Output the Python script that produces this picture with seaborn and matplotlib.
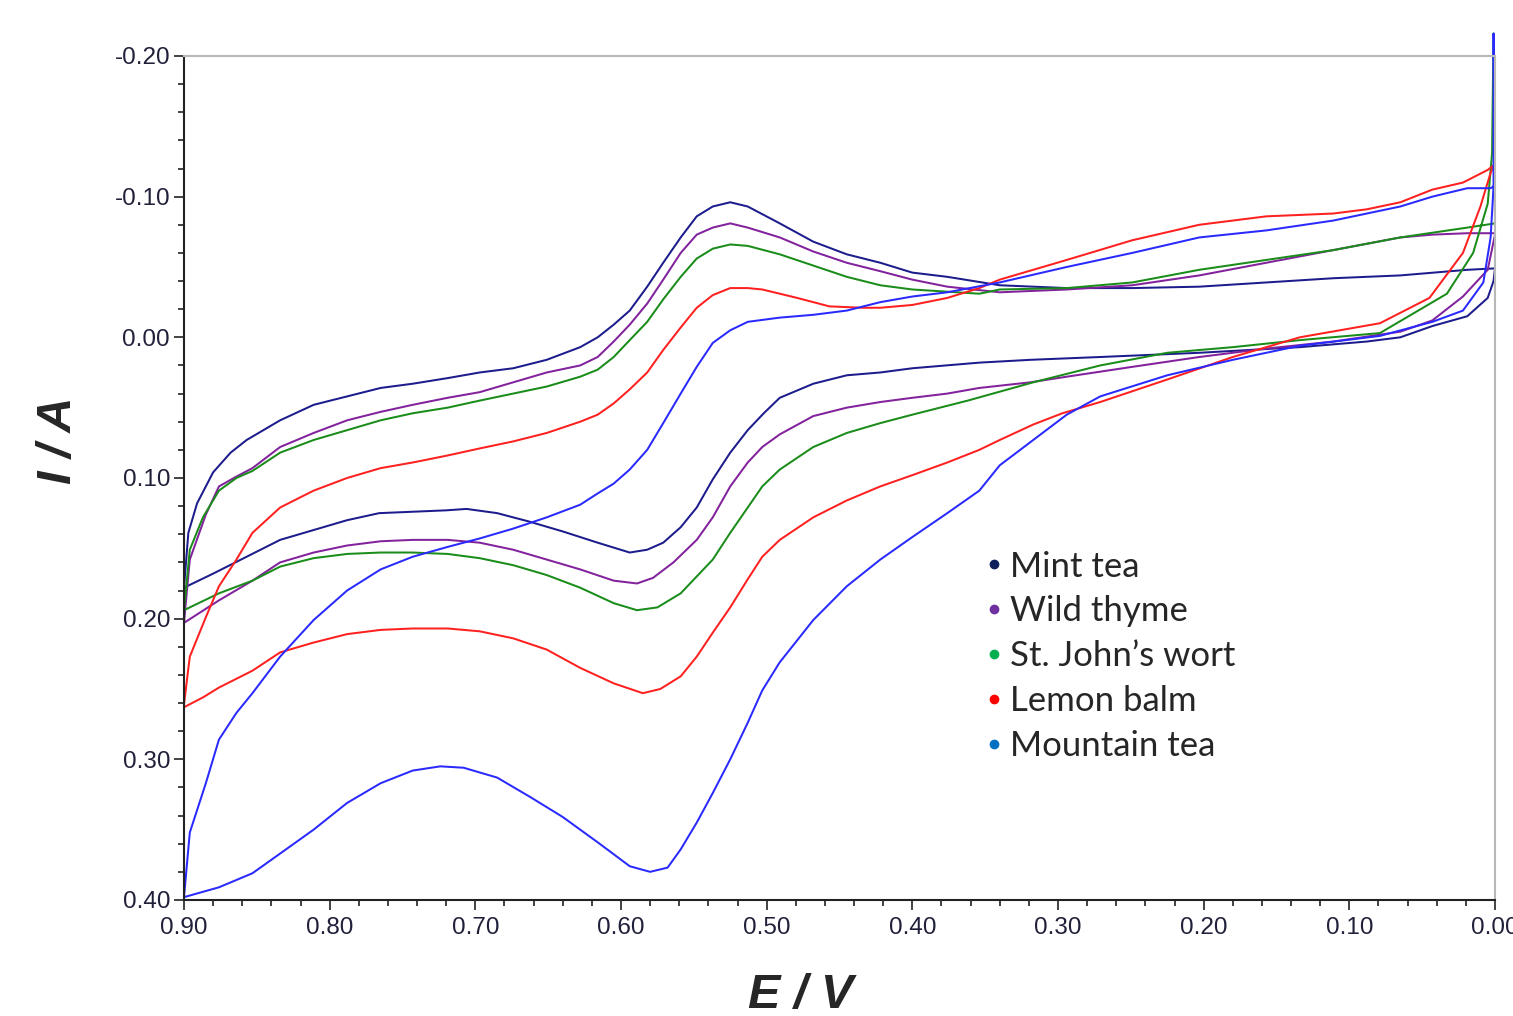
import numpy as np
import pandas as pd
import matplotlib
matplotlib.use("Agg")
import matplotlib.pyplot as plt
import seaborn as sns
from matplotlib.lines import Line2D
from matplotlib.ticker import MultipleLocator, FuncFormatter

# cyclic voltammograms of five herbal teas
# each loop: forward branch 0.90 -> 0.00 V, reverse branch 0.00 -> 0.90 V

samples = ["Mint tea", "Wild thyme", "St. John\u2019s wort", "Lemon balm", "Mountain tea"]

mint_fwd_E = [0.900, 0.880, 0.857, 0.834, 0.811, 0.788, 0.766, 0.743, 0.720, 0.706,
              0.685, 0.663, 0.640, 0.616, 0.594, 0.582, 0.571, 0.559, 0.548, 0.537,
              0.525, 0.513, 0.502, 0.491, 0.468, 0.445, 0.422, 0.400, 0.354, 0.319,
              0.271, 0.203, 0.134, 0.088, 0.065, 0.043, 0.019, 0.005, 0.001, 0.000]
mint_fwd_I = [0.178, 0.168, 0.156, 0.144, 0.137, 0.130, 0.125, 0.124, 0.123, 0.122,
              0.125, 0.131, 0.138, 0.146, 0.153, 0.151, 0.146, 0.135, 0.121, 0.101,
              0.082, 0.066, 0.054, 0.043, 0.033, 0.027, 0.025, 0.022, 0.018, 0.016,
              0.014, 0.011, 0.007, 0.003, 0.000, -0.008, -0.015, -0.028, -0.040, -0.049]
mint_rev_E = [0.000, 0.019, 0.065, 0.111, 0.157, 0.203, 0.249, 0.294, 0.340, 0.376,
              0.400, 0.422, 0.445, 0.468, 0.491, 0.513, 0.525, 0.537, 0.548, 0.559,
              0.571, 0.582, 0.594, 0.605, 0.616, 0.628, 0.651, 0.674, 0.697, 0.719,
              0.743, 0.765, 0.788, 0.811, 0.834, 0.857, 0.868, 0.880, 0.891, 0.897, 0.900]
mint_rev_I = [-0.049, -0.048, -0.044, -0.042, -0.039, -0.036, -0.035, -0.035, -0.037, -0.043,
              -0.046, -0.053, -0.059, -0.068, -0.081, -0.093, -0.096, -0.093, -0.086, -0.071,
              -0.053, -0.036, -0.019, -0.009, 0.000, 0.007, 0.016, 0.022, 0.025, 0.029,
              0.033, 0.036, 0.042, 0.048, 0.059, 0.073, 0.082, 0.096, 0.118, 0.139, 0.178]

thyme_fwd_E = [0.900, 0.876, 0.853, 0.834, 0.811, 0.788, 0.765, 0.743, 0.719, 0.697,
               0.674, 0.651, 0.628, 0.605, 0.589, 0.578, 0.564, 0.548, 0.537, 0.525,
               0.513, 0.503, 0.491, 0.468, 0.445, 0.422, 0.400, 0.376, 0.354, 0.319,
               0.294, 0.249, 0.203, 0.157, 0.111, 0.065, 0.043, 0.022, 0.005, 0.000]
thyme_fwd_I = [0.203, 0.187, 0.173, 0.160, 0.153, 0.148, 0.145, 0.144, 0.144, 0.146,
               0.151, 0.158, 0.165, 0.173, 0.175, 0.171, 0.160, 0.144, 0.128, 0.106,
               0.089, 0.078, 0.069, 0.056, 0.050, 0.046, 0.043, 0.040, 0.036, 0.032,
               0.028, 0.021, 0.014, 0.008, 0.003, -0.004, -0.012, -0.029, -0.048, -0.073]
thyme_rev_E = [0.000, 0.019, 0.043, 0.065, 0.111, 0.157, 0.203, 0.249, 0.294, 0.340,
               0.376, 0.400, 0.422, 0.445, 0.468, 0.491, 0.513, 0.525, 0.537, 0.548,
               0.559, 0.571, 0.582, 0.594, 0.605, 0.616, 0.628, 0.651, 0.674, 0.697,
               0.719, 0.743, 0.765, 0.788, 0.811, 0.834, 0.853, 0.864, 0.876, 0.885,
               0.896, 0.900]
thyme_rev_I = [-0.074, -0.074, -0.073, -0.071, -0.062, -0.053, -0.044, -0.037, -0.034, -0.032,
               -0.036, -0.041, -0.047, -0.053, -0.061, -0.071, -0.078, -0.081, -0.078, -0.073,
               -0.060, -0.041, -0.024, -0.009, 0.003, 0.014, 0.020, 0.025, 0.032, 0.039,
               0.043, 0.048, 0.053, 0.059, 0.068, 0.078, 0.093, 0.099, 0.106, 0.126,
               0.158, 0.203]

wort_fwd_E = [0.900, 0.876, 0.853, 0.834, 0.811, 0.788, 0.765, 0.743, 0.719, 0.697,
              0.674, 0.651, 0.628, 0.605, 0.589, 0.575, 0.559, 0.537, 0.525, 0.513,
              0.503, 0.491, 0.468, 0.445, 0.422, 0.400, 0.362, 0.317, 0.271, 0.225,
              0.180, 0.134, 0.079, 0.033, 0.015, 0.005, 0.002, 0.001]
wort_fwd_I = [0.194, 0.182, 0.173, 0.163, 0.157, 0.154, 0.153, 0.153, 0.154, 0.157,
              0.162, 0.169, 0.178, 0.189, 0.194, 0.192, 0.182, 0.158, 0.139, 0.121,
              0.106, 0.094, 0.078, 0.068, 0.061, 0.055, 0.045, 0.032, 0.020, 0.011,
              0.007, 0.002, -0.003, -0.031, -0.060, -0.095, -0.131, -0.216]
wort_rev_E = [0.000, 0.019, 0.065, 0.111, 0.157, 0.203, 0.249, 0.294, 0.340, 0.354,
              0.400, 0.422, 0.445, 0.468, 0.491, 0.513, 0.525, 0.537, 0.548, 0.559,
              0.571, 0.582, 0.594, 0.605, 0.616, 0.628, 0.651, 0.674, 0.697, 0.719,
              0.743, 0.765, 0.788, 0.811, 0.834, 0.853, 0.864, 0.876, 0.887, 0.896, 0.900]
wort_rev_I = [-0.081, -0.078, -0.071, -0.062, -0.055, -0.048, -0.039, -0.035, -0.034, -0.031,
              -0.034, -0.037, -0.043, -0.051, -0.059, -0.065, -0.066, -0.063, -0.056, -0.043,
              -0.027, -0.011, 0.002, 0.014, 0.023, 0.028, 0.035, 0.040, 0.045, 0.050,
              0.054, 0.059, 0.066, 0.073, 0.082, 0.095, 0.100, 0.109, 0.128, 0.151, 0.194]

balm_fwd_E = [0.900, 0.887, 0.876, 0.853, 0.834, 0.811, 0.788, 0.765, 0.743, 0.719,
              0.697, 0.674, 0.651, 0.628, 0.605, 0.585, 0.573, 0.559, 0.548, 0.537,
              0.525, 0.513, 0.503, 0.491, 0.468, 0.445, 0.422, 0.400, 0.376, 0.354,
              0.340, 0.317, 0.297, 0.271, 0.225, 0.180, 0.134, 0.079, 0.045, 0.022,
              0.010, 0.003, 0.000]
balm_fwd_I = [0.263, 0.256, 0.249, 0.237, 0.224, 0.217, 0.211, 0.208, 0.207, 0.207,
              0.209, 0.214, 0.222, 0.235, 0.246, 0.253, 0.250, 0.241, 0.227, 0.210,
              0.192, 0.172, 0.156, 0.144, 0.128, 0.116, 0.106, 0.098, 0.089, 0.080,
              0.073, 0.062, 0.054, 0.046, 0.030, 0.014, 0.000, -0.010, -0.028, -0.060,
              -0.093, -0.117, -0.123]
balm_rev_E = [0.000, 0.005, 0.022, 0.043, 0.065, 0.088, 0.111, 0.157, 0.203, 0.249,
              0.294, 0.340, 0.354, 0.376, 0.400, 0.422, 0.434, 0.457, 0.479, 0.503,
              0.513, 0.525, 0.537, 0.548, 0.559, 0.571, 0.582, 0.594, 0.605, 0.616,
              0.628, 0.651, 0.674, 0.697, 0.719, 0.743, 0.765, 0.788, 0.811, 0.834,
              0.853, 0.864, 0.876, 0.885, 0.896, 0.900]
balm_rev_I = [-0.123, -0.119, -0.110, -0.105, -0.096, -0.091, -0.088, -0.086, -0.080, -0.069,
              -0.055, -0.041, -0.035, -0.028, -0.023, -0.021, -0.021, -0.022, -0.028, -0.034,
              -0.035, -0.035, -0.030, -0.021, -0.007, 0.009, 0.025, 0.037, 0.047, 0.055,
              0.060, 0.068, 0.074, 0.079, 0.084, 0.089, 0.093, 0.100, 0.109, 0.121,
              0.139, 0.158, 0.177, 0.199, 0.227, 0.261]

mtea_fwd_E = [0.900, 0.876, 0.853, 0.834, 0.811, 0.788, 0.765, 0.743, 0.724, 0.708,
              0.685, 0.662, 0.640, 0.616, 0.594, 0.580, 0.568, 0.559, 0.548, 0.537,
              0.525, 0.513, 0.503, 0.491, 0.468, 0.445, 0.422, 0.400, 0.376, 0.354,
              0.340, 0.317, 0.294, 0.271, 0.225, 0.180, 0.134, 0.079, 0.043, 0.022,
              0.008, 0.003, 0.001, 0.001]
mtea_fwd_I = [0.398, 0.391, 0.381, 0.367, 0.350, 0.331, 0.317, 0.308, 0.305, 0.306,
              0.313, 0.327, 0.341, 0.359, 0.376, 0.380, 0.377, 0.364, 0.345, 0.324,
              0.300, 0.274, 0.251, 0.231, 0.201, 0.177, 0.158, 0.142, 0.125, 0.109,
              0.091, 0.073, 0.055, 0.042, 0.027, 0.016, 0.006, -0.001, -0.011, -0.019,
              -0.039, -0.071, -0.107, -0.216]
mtea_rev_E = [0.000, 0.003, 0.019, 0.043, 0.065, 0.111, 0.157, 0.203, 0.249, 0.294,
              0.340, 0.376, 0.400, 0.422, 0.445, 0.468, 0.491, 0.513, 0.525, 0.537,
              0.548, 0.559, 0.571, 0.582, 0.594, 0.605, 0.616, 0.628, 0.651, 0.674,
              0.697, 0.719, 0.743, 0.765, 0.788, 0.811, 0.834, 0.853, 0.864, 0.876,
              0.885, 0.896, 0.900]
mtea_rev_I = [-0.108, -0.106, -0.106, -0.100, -0.093, -0.083, -0.076, -0.071, -0.060, -0.050,
              -0.039, -0.032, -0.029, -0.025, -0.019, -0.016, -0.014, -0.011, -0.005, 0.004,
              0.021, 0.040, 0.061, 0.080, 0.094, 0.104, 0.111, 0.119, 0.128, 0.136,
              0.143, 0.149, 0.156, 0.165, 0.180, 0.201, 0.227, 0.253, 0.267, 0.286,
              0.317, 0.352, 0.398]

line_colors = ["#1c1c8c", "#82229c", "#1a8c1a", "#ff2020", "#2a2aff"]
dot_colors = ["#0e1f5c", "#7030a0", "#00b050", "#ff0000", "#0070c0"]

loops = [
    (mint_fwd_E + mint_rev_E, mint_fwd_I + mint_rev_I),
    (thyme_fwd_E + thyme_rev_E, thyme_fwd_I + thyme_rev_I),
    (wort_fwd_E + wort_rev_E, wort_fwd_I + wort_rev_I),
    (balm_fwd_E + balm_rev_E, balm_fwd_I + balm_rev_I),
    (mtea_fwd_E + mtea_rev_E, mtea_fwd_I + mtea_rev_I),
]

frames = []
for name, (E, I) in zip(samples, loops):
    frames.append(pd.DataFrame({"E": E, "I": I, "sample": name}))
cv = pd.concat(frames, ignore_index=True)

sns.set_style("ticks")
plt.rcParams["font.family"] = ["Liberation Sans", "DejaVu Sans"]

fig = plt.figure(figsize=(15.13, 10.16), dpi=100)
ax = fig.add_axes([0.1216, 0.1142, 0.8665, 0.8307])

sns.lineplot(data=cv, x="E", y="I", hue="sample", hue_order=samples,
             palette=line_colors, sort=False, estimator=None,
             linewidth=1.45, legend=False, ax=ax, clip_on=False)

ax.set_xlim(0.90, 0.00)
ax.set_ylim(0.40, -0.20)

fmt = FuncFormatter(lambda v, p: f"{0.0 if abs(v) < 1e-9 else v:.2f}")
ax.xaxis.set_major_locator(MultipleLocator(0.10))
ax.xaxis.set_minor_locator(MultipleLocator(0.02))
ax.yaxis.set_major_locator(MultipleLocator(0.10))
ax.yaxis.set_minor_locator(MultipleLocator(0.02))
ax.xaxis.set_major_formatter(fmt)
ax.yaxis.set_major_formatter(fmt)

ax.tick_params(which="major", length=7, width=1.2, color="#222222",
               labelsize=17.5, labelcolor="#20203a", pad=3)
ax.tick_params(axis="x", which="major", pad=5)
ax.tick_params(which="minor", length=4.5, width=1.2, color="#222222")

for side in ["left", "bottom"]:
    ax.spines[side].set_color("#222222")
    ax.spines[side].set_linewidth(1.5)
for side in ["top", "right"]:
    ax.spines[side].set_color("#b8b8b8")
    ax.spines[side].set_linewidth(1.5)

ax.set_xlabel("E / V", fontsize=35, fontweight="bold", fontstyle="italic", va="center")
ax.xaxis.set_label_coords(0.47, -0.1126)
ax.set_ylabel("I / A", fontsize=35, fontweight="bold", fontstyle="italic", va="center")
ax.yaxis.set_label_coords(-0.096, 0.545)

handles = [Line2D([], [], ls="", marker="o", markersize=6, color=c) for c in dot_colors]
ax.legend(handles, samples, loc="upper left", bbox_to_anchor=(0.611, 0.414),
          frameon=False, prop={"family": "Lato", "size": 25},
          handlelength=0.5, handletextpad=0.22, labelspacing=0.37,
          borderpad=0, borderaxespad=0)

plt.savefig("out.png", dpi=100)
